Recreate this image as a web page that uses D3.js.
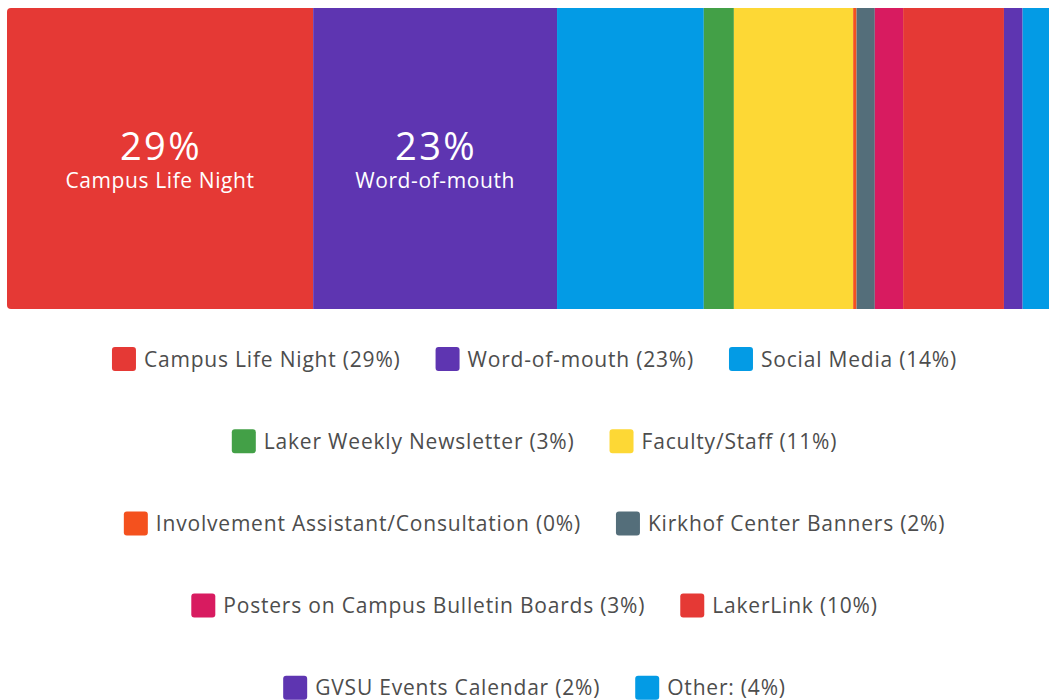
<!DOCTYPE html>
<html>
<head>
<meta charset="utf-8">
<script src="https://cdn.jsdelivr.net/npm/d3@7"></script>
<style>
  body { margin: 0; background: #fff; }
  svg { display: block; font-family: "Open Sans", sans-serif; }
</style>
</head>
<body>
<div id="chart"></div>
<script>
const categories = [
  "Campus Life Night", "Word-of-mouth", "Social Media", "Laker Weekly Newsletter",
  "Faculty/Staff", "Involvement Assistant/Consultation", "Kirkhof Center Banners",
  "Posters on Campus Bulletin Boards", "LakerLink", "GVSU Events Calendar", "Other:"
];
// share of responses, percent
const shares = [29.0, 23.1, 13.9, 2.85, 11.3, 0.32, 1.73, 2.68, 9.55, 1.77, 3.73];
const colors = [
  "#e53935", "#5e35b1", "#039be5", "#43a047", "#fdd835", "#f4511e",
  "#546e7a", "#d81b60", "#e53935", "#5e35b1", "#039be5"
];

const width = 1049, height = 700;
const barTop = 8, barHeight = 301, barLeft = 7, barRight = 1062;
const center = (barLeft + barRight) / 2;

const total = d3.sum(shares);
const pct = v => Math.round(v / total * 100);

let acc = 0;
const segs = categories.map((c, i) => {
  const s = { name: c, value: shares[i], color: colors[i], x0: acc };
  acc += shares[i];
  s.x1 = acc;
  return s;
});

const x = d3.scaleLinear().domain([0, total]).range([barLeft, barRight]);

const svg = d3.select("#chart").append("svg")
  .attr("width", width)
  .attr("height", height);

svg.append("clipPath").attr("id", "barclip")
  .append("rect")
  .attr("x", barLeft).attr("y", barTop)
  .attr("width", barRight - barLeft).attr("height", barHeight)
  .attr("rx", 4);

const bar = svg.append("g").attr("clip-path", "url(#barclip)");

bar.selectAll("rect")
  .data(segs)
  .join("rect")
  .attr("x", d => x(d.x0))
  .attr("y", barTop)
  .attr("width", d => x(d.x1) - x(d.x0))
  .attr("height", barHeight)
  .attr("fill", d => d.color);

// labels inside the big segments
const big = segs.filter(d => d.value >= 15);
const lab = svg.append("g").attr("fill", "#fff").attr("text-anchor", "middle");
lab.selectAll("text.pct")
  .data(big)
  .join("text")
  .attr("class", "pct")
  .attr("x", d => (x(d.x0) + x(d.x1)) / 2 + 1)
  .attr("y", 160)
  .attr("font-size", 38)
  .attr("letter-spacing", 2.5)
  .text(d => pct(d.value) + "%");
lab.selectAll("text.name")
  .data(big)
  .join("text")
  .attr("class", "name")
  .attr("x", d => (x(d.x0) + x(d.x1)) / 2)
  .attr("y", 188)
  .attr("font-size", 21)
  .attr("letter-spacing", 0.6)
  .text(d => d.name);

// legend, wrapped into centred rows
const sw = 24, gap = 8, itemGap = 35, maxRow = 900;
const rowY0 = 359, rowStep = 82.2;

const legend = svg.append("g");
const items = legend.selectAll("g")
  .data(segs)
  .join("g");
items.append("rect")
  .attr("width", sw).attr("height", sw)
  .attr("y", -sw / 2)
  .attr("rx", 3)
  .attr("fill", d => d.color);
items.append("text")
  .attr("x", sw + gap)
  .attr("y", 7.5)
  .attr("font-size", 21)
  .attr("letter-spacing", 0.8)
  .attr("fill", "#4d4d4d")
  .text(d => `${d.name} (${pct(d.value)}%)`);

const widths = [];
items.each(function () {
  widths.push(sw + gap + d3.select(this).select("text").node().getComputedTextLength());
});

const rows = [];
let cur = [];
let curW = 0;
widths.forEach((w, i) => {
  const add = cur.length ? itemGap + w : w;
  if (cur.length && curW + add > maxRow) {
    rows.push({ idx: cur, w: curW });
    cur = [i];
    curW = w;
  } else {
    cur.push(i);
    curW += add;
  }
});
rows.push({ idx: cur, w: curW });

const pos = [];
rows.forEach((r, ri) => {
  let px = center - r.w / 2;
  r.idx.forEach(i => {
    pos[i] = [px, rowY0 + ri * rowStep];
    px += widths[i] + itemGap;
  });
});
items.attr("transform", (d, i) => `translate(${pos[i][0]},${pos[i][1]})`);
</script>
</body>
</html>
